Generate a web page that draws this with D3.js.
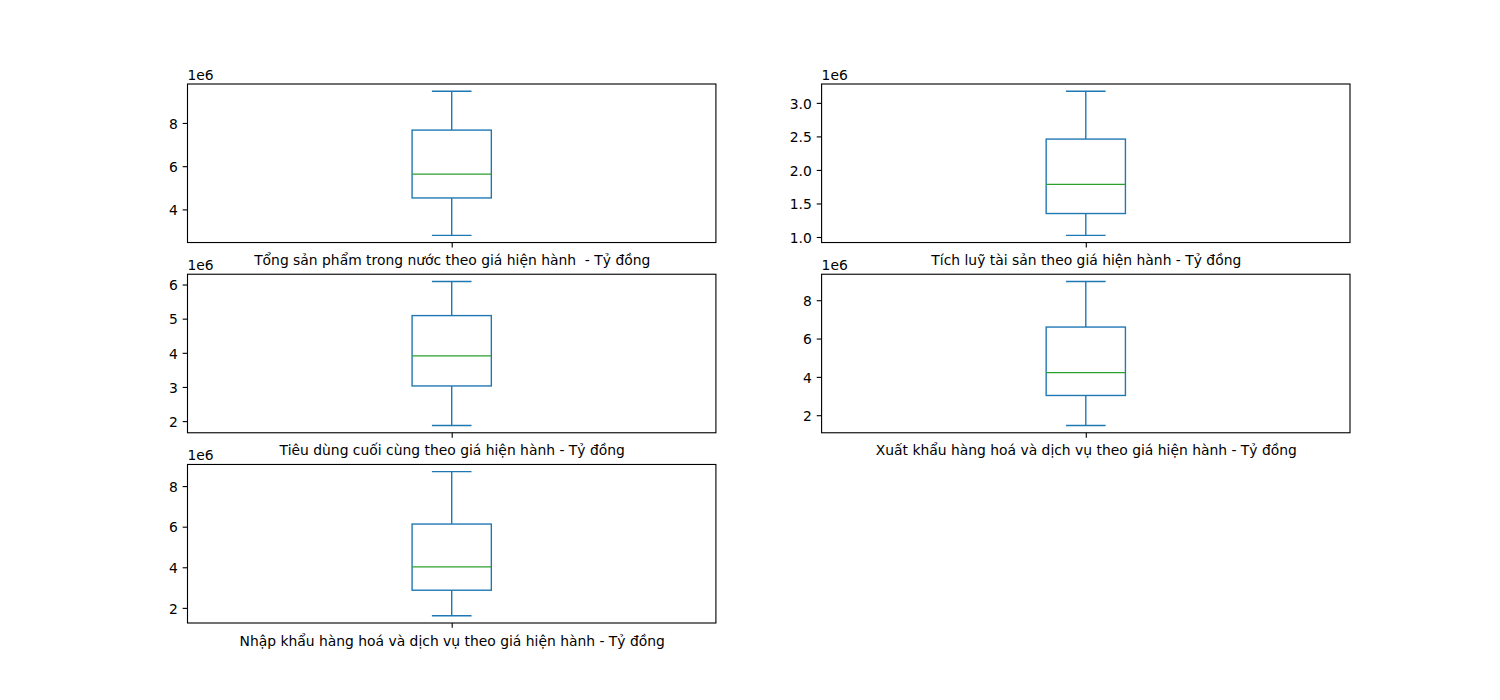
<!DOCTYPE html>
<html>
<head>
<meta charset="utf-8">
<script src="https://cdn.jsdelivr.net/npm/d3@7"></script>
<style>
  html, body { margin: 0; padding: 0; background: #fff; }
  text { font-family: "DejaVu Sans", sans-serif; }
</style>
</head>
<body>
<svg id="chart" width="1500" height="700"></svg>
<script>
// Column names (x tick labels)
const categories = [
  "Tổng sản phẩm trong nước theo giá hiện hành  - Tỷ đồng",
  "Tích luỹ tài sản theo giá hiện hành - Tỷ đồng",
  "Tiêu dùng cuối cùng theo giá hiện hành - Tỷ đồng",
  "Xuất khẩu hàng hoá và dịch vụ theo giá hiện hành - Tỷ đồng",
  "Nhập khẩu hàng hoá và dịch vụ theo giá hiện hành - Tỷ đồng"
];
// Box statistics (units of 1e6 Tỷ đồng)
const whiskerLow = [2.80, 1.025, 1.87, 1.46, 1.61];
const q1Values   = [4.53, 1.35, 3.03, 3.03, 2.87];
const medians    = [5.63, 1.785, 3.91, 4.22, 4.02];
const q3Values   = [7.67, 2.46, 5.09, 6.60, 6.13];
const whiskerHigh= [9.47, 3.174, 6.09, 8.98, 8.71];
// Y tick labels per panel
const yTicks = [
  [4, 6, 8],
  [1.0, 1.5, 2.0, 2.5, 3.0],
  [2, 3, 4, 5, 6],
  [2, 4, 6, 8],
  [2, 4, 6, 8]
];
const yTickFormats = ["d", ".1f", "d", "d", "d"];

const W = 1500, H = 700;
const figLeft = 0.125 * W, figRight = 0.9 * W, figTop = (1 - 0.88) * H, figBottom = (1 - 0.11) * H;
const ncols = 2, nrows = 3, wspace = 0.2, hspace = 0.2;
const axW = (figRight - figLeft) / (ncols + (ncols - 1) * wspace);
const axH = (figBottom - figTop) / (nrows + (nrows - 1) * hspace);
const pt = 100 / 72;
const fs = 10 * pt;

const svg = d3.select("#chart");

categories.forEach((cat, i) => {
  const col = i % ncols, row = Math.floor(i / ncols);
  const x0 = figLeft + col * axW * (1 + wspace);
  const y0 = figTop + row * axH * (1 + hspace);
  const g = svg.append("g").attr("transform", `translate(${x0},${y0})`);

  const lo = whiskerLow[i], hi = whiskerHigh[i];
  const m = (hi - lo) * 0.05;
  const y = d3.scaleLinear().domain([lo - m, hi + m]).range([axH, 0]);
  const x = d3.scaleLinear().domain([0.5, 1.5]).range([0, axW]);

  const boxW = 0.15, capW = 0.075;
  const blue = "#1f77b4", green = "#2ca02c", lw = 1 * pt;

  // whiskers
  g.append("line").attr("x1", x(1)).attr("x2", x(1)).attr("y1", y(q1Values[i])).attr("y2", y(lo))
    .attr("stroke", blue).attr("stroke-width", lw);
  g.append("line").attr("x1", x(1)).attr("x2", x(1)).attr("y1", y(q3Values[i])).attr("y2", y(hi))
    .attr("stroke", blue).attr("stroke-width", lw);
  // caps
  [lo, hi].forEach(v => {
    g.append("line").attr("x1", x(1 - capW / 2)).attr("x2", x(1 + capW / 2))
      .attr("y1", y(v)).attr("y2", y(v)).attr("stroke", blue).attr("stroke-width", lw);
  });
  // box
  g.append("rect").attr("x", x(1 - boxW / 2)).attr("width", x(1 + boxW / 2) - x(1 - boxW / 2))
    .attr("y", y(q3Values[i])).attr("height", y(q1Values[i]) - y(q3Values[i]))
    .attr("fill", "none").attr("stroke", blue).attr("stroke-width", lw);
  // median
  g.append("line").attr("x1", x(1 - boxW / 2)).attr("x2", x(1 + boxW / 2))
    .attr("y1", y(medians[i])).attr("y2", y(medians[i])).attr("stroke", green).attr("stroke-width", lw);

  // y axis
  const yAxis = d3.axisLeft(y).tickValues(yTicks[i]).tickFormat(d3.format(yTickFormats[i]))
    .tickSize(3.5 * pt).tickPadding(3.5 * pt);
  const ya = g.append("g").call(yAxis);
  ya.select(".domain").remove();
  ya.selectAll(".tick line").attr("stroke", "#000").attr("stroke-width", 0.8 * pt);
  ya.selectAll(".tick text").attr("fill", "#000").style("font-size", fs + "px")
    .style("font-family", "DejaVu Sans").attr("dy", "0.38em");

  // x axis
  const xAxis = d3.axisBottom(x).tickValues([1]).tickFormat(() => cat)
    .tickSize(3.5 * pt).tickPadding(3.5 * pt);
  const xa = g.append("g").attr("transform", `translate(0,${axH})`).call(xAxis);
  xa.select(".domain").remove();
  xa.selectAll(".tick line").attr("stroke", "#000").attr("stroke-width", 0.8 * pt);
  xa.selectAll(".tick text").attr("fill", "#000").style("font-size", fs + "px")
    .style("font-family", "DejaVu Sans").style("white-space", "pre").attr("dy", "0.92em");

  // frame
  g.append("rect").attr("x", 0).attr("y", 0).attr("width", axW).attr("height", axH)
    .attr("fill", "none").attr("stroke", "#000").attr("stroke-width", 0.8 * pt);

  // offset text
  g.append("text").attr("x", 0).attr("y", -4).text("1e6")
    .style("font-size", fs + "px").attr("fill", "#000");
});
</script>
</body>
</html>
